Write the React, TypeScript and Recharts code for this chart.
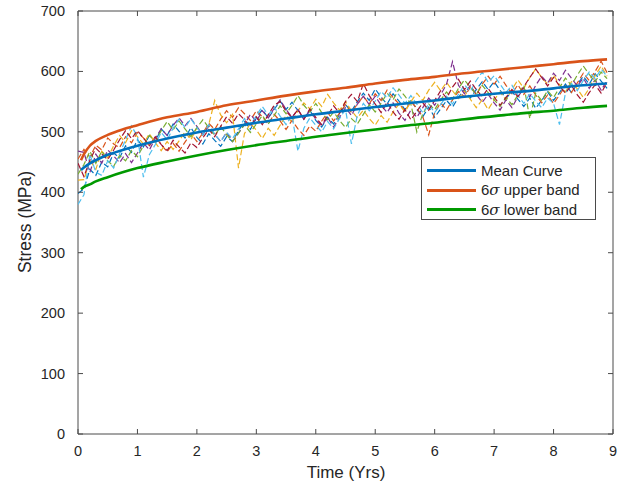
import React from 'react';
import { LineChart, Line, XAxis, YAxis, ReferenceArea } from 'recharts';

// ---- data ----
const times = [0, 0.1, 0.2, 0.3, 0.4, 0.5, 0.6, 0.7, 0.8, 0.9, 1, 1.1, 1.2, 1.3, 1.4, 1.5, 1.6, 1.7, 1.8, 1.9, 2, 2.1, 2.2, 2.3, 2.4, 2.5, 2.6, 2.7, 2.8, 2.9, 3, 3.1, 3.2, 3.3, 3.4, 3.5, 3.6, 3.7, 3.8, 3.9, 4, 4.1, 4.2, 4.3, 4.4, 4.5, 4.6, 4.7, 4.8, 4.9, 5, 5.1, 5.2, 5.3, 5.4, 5.5, 5.6, 5.7, 5.8, 5.9, 6, 6.1, 6.2, 6.3, 6.4, 6.5, 6.6, 6.7, 6.8, 6.9, 7, 7.1, 7.2, 7.3, 7.4, 7.5, 7.6, 7.7, 7.8, 7.9, 8, 8.1, 8.2, 8.3, 8.4, 8.5, 8.6, 8.7, 8.8, 8.9];

const sample1 = [398, 406, 438, 428, 450, 442, 465, 457, 477, 466, 487, 475, 494, 484, 505, 494, 513, 501, 490, 507, 491, 480, 497, 486, 476, 492, 484, 502, 517, 504, 523, 537, 523, 537, 551, 537, 549, 535, 521, 536, 519, 508, 524, 513, 529, 545, 534, 550, 564, 552, 571, 557, 546, 563, 551, 537, 553, 537, 525, 541, 524, 538, 552, 541, 557, 570, 556, 570, 583, 570, 583, 569, 555, 567, 554, 542, 556, 539, 552, 566, 552, 565, 579, 565, 579, 592, 579, 596, 584, 572];
const sample2 = [455, 471, 458, 478, 470, 490, 480, 474, 492, 482, 499, 490, 477, 492, 479, 467, 481, 468, 483, 497, 484, 498, 514, 504, 521, 535, 524, 540, 530, 519, 535, 525, 513, 529, 518, 504, 519, 505, 494, 510, 501, 518, 532, 518, 531, 545, 532, 546, 559, 546, 563, 552, 569, 557, 546, 535, 550, 539, 525, 495, 532, 548, 536, 553, 567, 558, 574, 562, 579, 592, 579, 592, 577, 563, 578, 562, 576, 561, 548, 561, 547, 561, 576, 565, 581, 597, 585, 600, 617, 598];
const sample3 = [420, 421, 453, 438, 468, 457, 477, 494, 482, 502, 492, 480, 497, 482, 469, 484, 471, 485, 500, 487, 507, 495, 512, 552, 528, 515, 529, 440, 497, 514, 503, 489, 506, 494, 511, 527, 516, 535, 548, 538, 554, 542, 562, 548, 536, 550, 535, 523, 536, 522, 511, 527, 516, 533, 546, 533, 550, 564, 552, 569, 582, 568, 582, 568, 555, 568, 554, 540, 553, 537, 553, 566, 553, 570, 586, 572, 590, 604, 590, 579, 594, 578, 566, 583, 571, 557, 572, 593, 609, 592];
const sample4 = [468, 466, 433, 463, 448, 470, 460, 449, 464, 449, 465, 482, 470, 489, 505, 494, 511, 523, 510, 522, 509, 495, 510, 496, 484, 499, 484, 498, 512, 529, 517, 535, 523, 539, 553, 537, 524, 537, 521, 536, 521, 510, 524, 508, 524, 540, 527, 546, 559, 545, 559, 544, 532, 548, 531, 519, 536, 524, 540, 556, 544, 561, 579, 616, 577, 563, 577, 562, 549, 562, 548, 536, 553, 540, 558, 572, 558, 577, 592, 581, 597, 585, 602, 589, 576, 589, 572, 586, 569, 585];
const sample5 = [430, 446, 468, 448, 468, 452, 443, 461, 452, 469, 459, 477, 494, 484, 502, 517, 503, 518, 505, 492, 507, 520, 507, 494, 509, 495, 484, 498, 512, 499, 513, 527, 513, 527, 543, 530, 544, 560, 544, 533, 547, 532, 520, 533, 519, 507, 522, 513, 529, 545, 533, 547, 564, 553, 571, 559, 546, 500, 530, 546, 537, 553, 566, 554, 572, 586, 574, 562, 577, 565, 553, 542, 557, 545, 561, 577, 522, 564, 552, 568, 557, 573, 589, 577, 594, 609, 595, 583, 599, 588];
const sample6 = [380, 396, 463, 433, 428, 452, 440, 464, 487, 510, 492, 425, 462, 479, 499, 487, 506, 521, 507, 522, 507, 495, 512, 496, 484, 499, 489, 505, 522, 511, 527, 542, 528, 541, 526, 512, 527, 468, 506, 523, 511, 500, 517, 505, 522, 537, 480, 528, 547, 535, 551, 567, 556, 573, 561, 547, 560, 546, 532, 546, 532, 545, 559, 546, 562, 578, 567, 585, 599, 582, 593, 579, 565, 577, 561, 547, 563, 551, 540, 556, 547, 512, 564, 580, 568, 585, 599, 588, 604, 592];
const sample7 = [448, 426, 453, 473, 463, 454, 470, 487, 502, 489, 502, 490, 477, 492, 479, 469, 486, 475, 465, 482, 474, 490, 504, 492, 509, 525, 514, 530, 520, 509, 525, 512, 528, 544, 550, 534, 524, 537, 521, 538, 524, 512, 527, 543, 531, 550, 562, 550, 580, 560, 546, 532, 549, 533, 521, 537, 520, 534, 548, 536, 552, 568, 556, 574, 587, 570, 584, 570, 558, 572, 558, 544, 557, 570, 558, 575, 590, 604, 590, 576, 590, 576, 564, 577, 561, 549, 565, 578, 564, 582];

const curveTimes = [0.05, 0.1, 0.2, 0.3, 0.5, 0.75, 1, 1.5, 2, 2.5, 3, 3.5, 4, 4.5, 5, 5.5, 6, 6.5, 7, 7.5, 8, 8.5, 8.9];
const meanCurve = [437, 441, 448, 453, 462, 470, 477, 489, 499, 507, 515, 522, 529, 535, 541, 547, 552, 558, 563, 567, 572, 577, 580];
const upperBand = [453, 463, 477, 485, 495, 504, 511, 524, 533, 544, 552, 560, 567, 573, 580, 586, 591, 597, 602, 607, 612, 617, 620];
const lowerBand = [405, 409, 413, 418, 425, 433, 440, 451, 461, 470, 478, 485, 492, 498, 504, 510, 515, 521, 526, 531, 535, 540, 543];

const xTicks = [0, 1, 2, 3, 4, 5, 6, 7, 8, 9];
const yTicks = [0, 100, 200, 300, 400, 500, 600, 700];

const samples = [sample1, sample2, sample3, sample4, sample5, sample6, sample7];
const sampleColors = ['#0072BD', '#D95319', '#EDB120', '#7E2F8E', '#77AC30', '#4DBEEE', '#A2142F'];

const sampleData = times.map((t, i) => {
  const row: any = { t };
  samples.forEach((s, k) => { row['s' + k] = s[i]; });
  return row;
});
const curveData = curveTimes.map((t, i) => ({ t, mean: meanCurve[i], upper: upperBand[i], lower: lowerBand[i] }));

// ---- layout ----
const W = 636, H = 489;
const PLOT_LEFT = 78, PLOT_RIGHT = 613, PLOT_TOP = 11, PLOT_BOTTOM = 434;
const AXIS_COLOR = '#4a4a4a';
const TEXT_COLOR = '#262626';
const FONT = '"Liberation Sans", Arial, Helvetica, sans-serif';

const XTick = (props: any) => {
  const { x, payload } = props;
  return (
    <g>
      <line x1={x} x2={x} y1={PLOT_BOTTOM} y2={PLOT_BOTTOM - 5} stroke={AXIS_COLOR} strokeWidth={1} />
      <line x1={x} x2={x} y1={PLOT_TOP} y2={PLOT_TOP + 5} stroke={AXIS_COLOR} strokeWidth={1} />
      <text x={x} y={PLOT_BOTTOM + 22} textAnchor="middle" fontSize={14.5} fill={TEXT_COLOR} fontFamily={FONT}>{payload.value}</text>
    </g>
  );
};

const YTick = (props: any) => {
  const { y, payload } = props;
  return (
    <g>
      <line x1={PLOT_LEFT} x2={PLOT_LEFT + 5} y1={y} y2={y} stroke={AXIS_COLOR} strokeWidth={1} />
      <line x1={PLOT_RIGHT} x2={PLOT_RIGHT - 5} y1={y} y2={y} stroke={AXIS_COLOR} strokeWidth={1} />
      <text x={PLOT_LEFT - 13} y={y + 5} textAnchor="end" fontSize={14.5} fill={TEXT_COLOR} fontFamily={FONT}>{payload.value}</text>
    </g>
  );
};

const sigma = <i style={{ fontFamily: '"DejaVu Serif", serif' }}>σ</i>;
const legendItems = [
  { color: '#0072BD', label: <span>Mean Curve</span> },
  { color: '#D95319', label: <span>6{sigma} upper band</span> },
  { color: '#009900', label: <span>6{sigma} lower band</span> },
];

export default function App() {
  return (
    <div style={{ position: 'absolute', left: 0, top: 0, width: W, height: H, background: '#fff', fontFamily: FONT }}>
      <LineChart width={W} height={H} margin={{ top: PLOT_TOP, right: W - PLOT_RIGHT, left: 0, bottom: 0 }}>
        <XAxis dataKey="t" type="number" domain={[0, 9]} ticks={xTicks} height={H - PLOT_BOTTOM}
          axisLine={false} tickLine={false} tick={<XTick />} interval={0} allowDataOverflow />
        <YAxis type="number" domain={[0, 700]} ticks={yTicks} width={PLOT_LEFT}
          axisLine={false} tickLine={false} tick={<YTick />} interval={0} allowDataOverflow />
        {samples.map((_, k) => (
          <Line key={k} data={sampleData} dataKey={'s' + k} type="linear" stroke={sampleColors[k]}
            strokeWidth={1.2} strokeDasharray="6 3" dot={false} activeDot={false} isAnimationActive={false} />
        ))}
        <Line data={curveData} dataKey="mean" type="monotone" stroke="#0072BD" strokeWidth={2.6} dot={false} activeDot={false} isAnimationActive={false} />
        <Line data={curveData} dataKey="upper" type="monotone" stroke="#D95319" strokeWidth={2.6} dot={false} activeDot={false} isAnimationActive={false} />
        <Line data={curveData} dataKey="lower" type="monotone" stroke="#009900" strokeWidth={2.6} dot={false} activeDot={false} isAnimationActive={false} />
        <ReferenceArea x1={0} x2={9} y1={0} y2={700} fill="none" stroke={AXIS_COLOR} strokeWidth={1} ifOverflow="visible" />
      </LineChart>

      <div style={{ position: 'absolute', left: 346, top: 473, transform: 'translate(-50%, -50%)', fontSize: 17, color: TEXT_COLOR, whiteSpace: 'nowrap' }}>
        Time (Yrs)
      </div>
      <div style={{ position: 'absolute', left: 25, top: 222, transform: 'translate(-50%, -50%) rotate(-90deg)', fontSize: 17.5, color: TEXT_COLOR, whiteSpace: 'nowrap' }}>
        Stress (MPa)
      </div>

      <div style={{ position: 'absolute', left: 421, top: 157, width: 175, height: 63, border: '1px solid ' + AXIS_COLOR, background: '#fff', boxSizing: 'border-box', padding: '3px 0 0 5px' }}>
        {legendItems.map((it, i) => (
          <div key={i} style={{ display: 'flex', alignItems: 'center', height: 19.5 }}>
            <div style={{ width: 49, height: 2.6, background: it.color, marginRight: 5 }} />
            <div style={{ fontSize: 15, color: TEXT_COLOR, whiteSpace: 'nowrap' }}>{it.label}</div>
          </div>
        ))}
      </div>
    </div>
  );
}
